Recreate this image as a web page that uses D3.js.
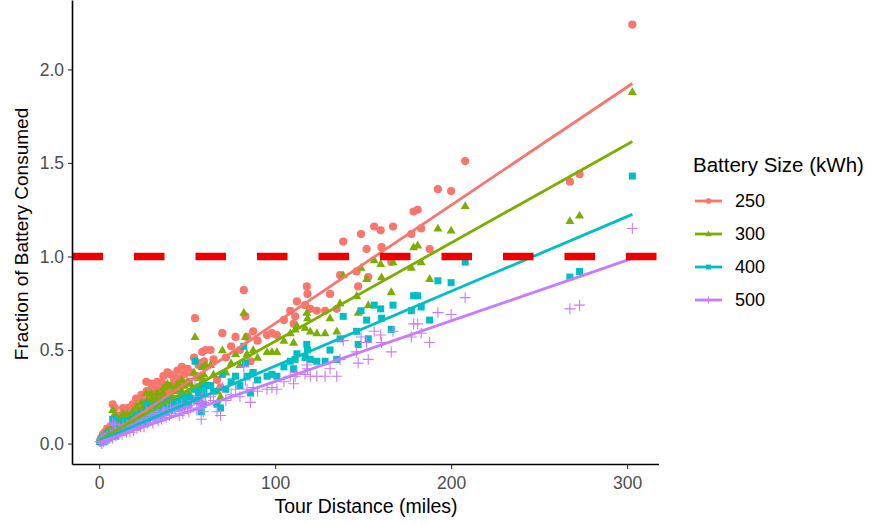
<!DOCTYPE html>
<html>
<head>
<meta charset="utf-8">
<script src="https://cdn.jsdelivr.net/npm/d3@7"></script>
<style>
  html, body { margin: 0; padding: 0; background: #ffffff; }
  svg { display: block; font-family: "Liberation Sans", Arial, sans-serif; }
</style>
</head>
<body>
<svg id="chart" width="873" height="525"></svg>
<script>
// ---- data ----
const tourMiles = [0.5,1.0,1.2,1.5,2.0,2.2,2.5,3.0,3.2,3.5,4.0,4.5,5.0,5.5,6.0,6.5,7.0,7.5,7.7,8.0,
  8.9,9.0,9.5,10.0,11.0,11.5,12.0,13.0,13.6,14.0,14.5,15.5,16.0,16.5,17.5,18.5,19.0,19.5,20.5,21.0,
  21.5,22.5,23.5,24.0,24.5,25.5,26.8,27.0,27.5,28.5,29.5,30.0,30.5,31.5,32.4,33.0,33.5,34.5,35.5,36.0,
  36.5,37.1,38.0,38.8,40.0,40.5,41.0,42.6,43.5,44.5,45.5,46.4,47.0,47.5,48.5,50.2,51.0,52.0,53.9,54.5,
  55.5,56.5,57.7,58.0,58.6,59.2,59.6,60.5,63.3,65.0,67.0,69.0,70.0,72.0,75.0,77.5,80.0,82.2,83.1,84.0,
  86.0,87.5,90.0,95.4,98.2,101.0,105.0,108.6,110.5,111.4,112.4,117.0,118.0,118.4,120.0,123.7,128.4,131.2,135.0,136.9,
  138.7,146.3,147.2,148.8,152.0,152.9,156.3,160.0,160.5,166.0,167.0,177.4,178.7,181.0,183.0,187.8,192.5,200.0,208.0,267.5,
  273.0,303.0];

const frac250 = [0.01,0.02,0.03,0.01,0.03,0.05,0.02,0.04,0.06,0.03,0.05,0.08,0.04,0.06,0.05,0.09,0.08,0.06,0.21,0.10,
  0.19,0.13,0.07,0.11,0.09,0.15,0.12,0.10,0.19,0.16,0.13,0.11,0.19,0.15,0.12,0.17,0.21,0.14,0.19,0.24,
  0.15,0.20,0.17,0.26,0.23,0.18,0.33,0.28,0.21,0.26,0.32,0.29,0.22,0.27,0.29,0.33,0.24,0.28,0.25,0.32,
  0.36,0.31,0.27,0.38,0.29,0.37,0.31,0.34,0.35,0.39,0.30,0.35,0.41,0.32,0.37,0.40,0.33,0.38,0.46,0.67,
  0.36,0.42,0.43,0.27,0.49,0.33,0.44,0.50,0.50,0.45,0.34,0.30,0.59,0.46,0.52,0.57,0.50,0.82,0.68,0.57,
  0.44,0.60,0.55,0.58,0.59,0.58,0.66,0.71,0.64,0.68,0.76,0.74,0.84,0.80,0.72,0.71,0.71,0.80,0.72,0.90,
  1.08,0.92,0.84,1.12,1.04,0.89,1.16,1.14,1.05,0.97,1.16,1.12,1.24,1.25,1.15,1.04,1.36,1.35,1.51,1.40,
  1.44,2.24];

const frac300 = [0.01,0.02,0.03,0.01,0.03,0.04,0.02,0.03,0.05,0.03,0.04,0.07,0.03,0.05,0.04,0.08,0.07,0.05,0.18,0.08,
  0.16,0.11,0.06,0.09,0.08,0.13,0.10,0.08,0.16,0.13,0.11,0.09,0.16,0.13,0.10,0.14,0.17,0.12,0.16,0.20,
  0.13,0.17,0.14,0.22,0.19,0.15,0.27,0.23,0.17,0.22,0.27,0.24,0.18,0.22,0.24,0.27,0.20,0.23,0.21,0.27,
  0.30,0.26,0.22,0.32,0.24,0.31,0.26,0.28,0.29,0.32,0.25,0.29,0.34,0.27,0.31,0.33,0.27,0.32,0.38,0.57,
  0.30,0.35,0.36,0.22,0.41,0.27,0.37,0.42,0.42,0.37,0.28,0.25,0.50,0.38,0.43,0.48,0.42,0.70,0.57,0.48,
  0.37,0.50,0.46,0.49,0.49,0.49,0.55,0.59,0.54,0.61,0.63,0.62,0.70,0.67,0.60,0.59,0.59,0.67,0.60,0.75,
  0.90,0.79,0.70,0.94,0.88,0.74,0.98,0.96,0.89,0.81,0.97,0.94,1.05,1.06,0.97,0.88,1.15,1.14,1.27,1.19,
  1.22,1.88];

const frac400 = [0.01,0.01,0.02,0.01,0.02,0.03,0.01,0.03,0.04,0.02,0.03,0.05,0.03,0.04,0.03,0.06,0.05,0.04,0.13,0.06,
  0.12,0.08,0.04,0.07,0.06,0.09,0.08,0.06,0.12,0.10,0.08,0.07,0.12,0.09,0.08,0.11,0.13,0.09,0.12,0.15,
  0.09,0.13,0.11,0.16,0.14,0.11,0.21,0.18,0.13,0.16,0.20,0.18,0.14,0.17,0.18,0.21,0.15,0.18,0.16,0.20,
  0.23,0.19,0.17,0.24,0.18,0.23,0.19,0.21,0.22,0.24,0.19,0.22,0.26,0.20,0.23,0.25,0.21,0.24,0.29,0.44,
  0.23,0.26,0.27,0.17,0.31,0.21,0.28,0.31,0.31,0.28,0.21,0.19,0.37,0.29,0.33,0.36,0.31,0.52,0.43,0.36,
  0.27,0.38,0.34,0.36,0.37,0.36,0.41,0.44,0.40,0.45,0.48,0.46,0.53,0.50,0.45,0.44,0.44,0.50,0.45,0.56,
  0.68,0.60,0.53,0.71,0.66,0.56,0.74,0.72,0.67,0.61,0.74,0.71,0.79,0.79,0.73,0.66,0.87,0.86,0.97,0.89,
  0.92,1.43];

const frac500 = [0.01,0.01,0.02,0.00,0.02,0.03,0.01,0.02,0.03,0.02,0.03,0.04,0.02,0.03,0.03,0.05,0.04,0.03,0.11,0.05,
  0.10,0.07,0.04,0.06,0.05,0.08,0.06,0.05,0.10,0.08,0.07,0.06,0.10,0.08,0.06,0.09,0.11,0.07,0.10,0.12,
  0.08,0.10,0.09,0.13,0.12,0.09,0.17,0.14,0.11,0.13,0.16,0.15,0.11,0.14,0.15,0.17,0.12,0.14,0.13,0.16,
  0.18,0.16,0.14,0.19,0.15,0.19,0.16,0.17,0.18,0.20,0.15,0.18,0.21,0.16,0.19,0.20,0.17,0.19,0.23,0.34,
  0.18,0.21,0.22,0.13,0.25,0.17,0.22,0.25,0.25,0.23,0.17,0.15,0.30,0.23,0.26,0.29,0.25,0.41,0.34,0.29,
  0.22,0.30,0.28,0.29,0.30,0.29,0.33,0.36,0.32,0.36,0.38,0.37,0.42,0.40,0.36,0.36,0.36,0.40,0.36,0.45,
  0.55,0.49,0.43,0.57,0.54,0.45,0.60,0.58,0.54,0.49,0.60,0.57,0.64,0.64,0.59,0.54,0.70,0.69,0.78,0.72,
  0.74,1.15];

const batterySizes = ["250", "300", "400", "500"];
const seriesColors = ["#F8766D", "#7CAE00", "#00BFC4", "#C77CFF"];
const seriesShapes = ["circle", "triangle", "square", "plus"];
// fitted straight lines (value at start and end of the fit range)
const fitRange = [0, 303];
const fitStartValue = [0.010, 0.020, 0.015, 0.007];
const fitEndValue = [1.925, 1.615, 1.225, 0.990];
const thresholdValue = 1.0;
const xTickValues = [0, 100, 200, 300];
const yTickValues = [0, 0.5, 1.0, 1.5, 2.0];
const xTitle = "Tour Distance (miles)";
const yTitle = "Fraction of Battery Consumed";
const legendTitle = "Battery Size (kWh)";

// ---- build ----
const seriesValues = [frac250, frac300, frac400, frac500];
const series = batterySizes.map((b, i) => ({
  name: b, color: seriesColors[i], shape: seriesShapes[i],
  points: tourMiles.map((m, j) => ({ x: m, y: seriesValues[i][j] })),
  fit: [{ x: fitRange[0], y: fitStartValue[i] }, { x: fitRange[1], y: fitEndValue[i] }]
}));

const svg = d3.select("#chart");
const panel = { left: 72.5, right: 659, top: 3.6, bottom: 464.5 };

const xMax = d3.max(tourMiles);
const xPad = xMax * 0.05;
const x = d3.scaleLinear().domain([0 - xPad, xMax + xPad]).range([panel.left, panel.right]);
const yMaxData = d3.max(frac250);
const yPad = yMaxData * 0.05;
const y = d3.scaleLinear().domain([0 - yPad, yMaxData + yPad]).range([panel.bottom, panel.top]);

function drawShape(g, shape, color, px, py, scale) {
  const s = scale || 1;
  if (shape === "circle") {
    g.append("circle").attr("cx", px).attr("cy", py).attr("r", 4.1 * s).attr("fill", color);
  } else if (shape === "triangle") {
    const h = 7.8 * s, w = 9 * s;
    g.append("path")
      .attr("d", `M${px},${py - h * 0.6}L${px + w / 2},${py + h * 0.4}L${px - w / 2},${py + h * 0.4}Z`)
      .attr("fill", color);
  } else if (shape === "square") {
    const a = 7 * s;
    g.append("rect").attr("x", px - a / 2).attr("y", py - a / 2).attr("width", a).attr("height", a).attr("fill", color);
  } else {
    const a = 5.5 * s;
    g.append("path")
      .attr("d", `M${px - a},${py}L${px + a},${py}M${px},${py - a}L${px},${py + a}`)
      .attr("stroke", color).attr("stroke-width", 1.1).attr("fill", "none");
  }
}

// points
const pointsG = svg.append("g");
series.forEach(s => {
  s.points.forEach(p => drawShape(pointsG, s.shape, s.color, x(p.x), y(p.y), 1));
});

// fit lines
const line = d3.line().x(d => x(d.x)).y(d => y(d.y));
const linesG = svg.append("g");
series.forEach(s => {
  linesG.append("path").attr("d", line(s.fit)).attr("stroke", s.color)
    .attr("stroke-width", 2.8).attr("fill", "none");
});

// threshold dashed line
svg.append("line")
  .attr("x1", panel.left).attr("x2", panel.right)
  .attr("y1", y(thresholdValue)).attr("y2", y(thresholdValue))
  .attr("stroke", "#ee0000").attr("stroke-width", 7.5)
  .attr("stroke-dasharray", "30.5,31");

// axes
const xAxis = d3.axisBottom(x).tickValues(xTickValues).tickSize(4.5).tickPadding(8).tickFormat(d3.format("d"));
const yAxis = d3.axisLeft(y).tickValues(yTickValues).tickSize(4.5).tickPadding(4).tickFormat(d3.format(".1f"));

const gx = svg.append("g").attr("transform", `translate(0,${panel.bottom})`).call(xAxis);
const gy = svg.append("g").attr("transform", `translate(${panel.left},0)`).call(yAxis);
[gx, gy].forEach(g => {
  g.select(".domain").attr("stroke", "#000").attr("stroke-width", 1.6);
  g.selectAll(".tick line").attr("stroke", "#333").attr("stroke-width", 1.1);
  g.selectAll(".tick text").attr("fill", "#4d4d4d").attr("font-size", "17.5px")
    .attr("font-family", "Liberation Sans, Arial, sans-serif");
});
gx.select(".domain").attr("d", `M${panel.left},0H${panel.right}`);
gy.select(".domain").attr("d", `M0,${panel.top - 3}V${panel.bottom}`);
gx.selectAll(".tick text").attr("dy", "0.71em");

// axis titles
svg.append("text").attr("x", 366).attr("y", 513).attr("text-anchor", "middle")
  .attr("font-size", "19.5px").attr("fill", "#000").text(xTitle);
svg.append("text").attr("transform", `translate(28,234) rotate(-90)`).attr("text-anchor", "middle")
  .attr("font-size", "19px").attr("fill", "#000").text(yTitle);

// legend
const legend = svg.append("g");
legend.append("text").attr("x", 693).attr("y", 172).attr("font-size", "20.5px").attr("fill", "#000").text(legendTitle);
const legendY = [201, 234, 267, 300];
series.forEach((s, i) => {
  const ly = legendY[i];
  legend.append("line").attr("x1", 695).attr("x2", 722).attr("y1", ly).attr("y2", ly)
    .attr("stroke", s.color).attr("stroke-width", 2.8);
  drawShape(legend, s.shape, s.color, 708.5, ly, 0.7);
  legend.append("text").attr("x", 735).attr("y", ly).attr("dy", "0.36em")
    .attr("font-size", "18px").attr("fill", "#000").text(s.name);
});
</script>
</body>
</html>
